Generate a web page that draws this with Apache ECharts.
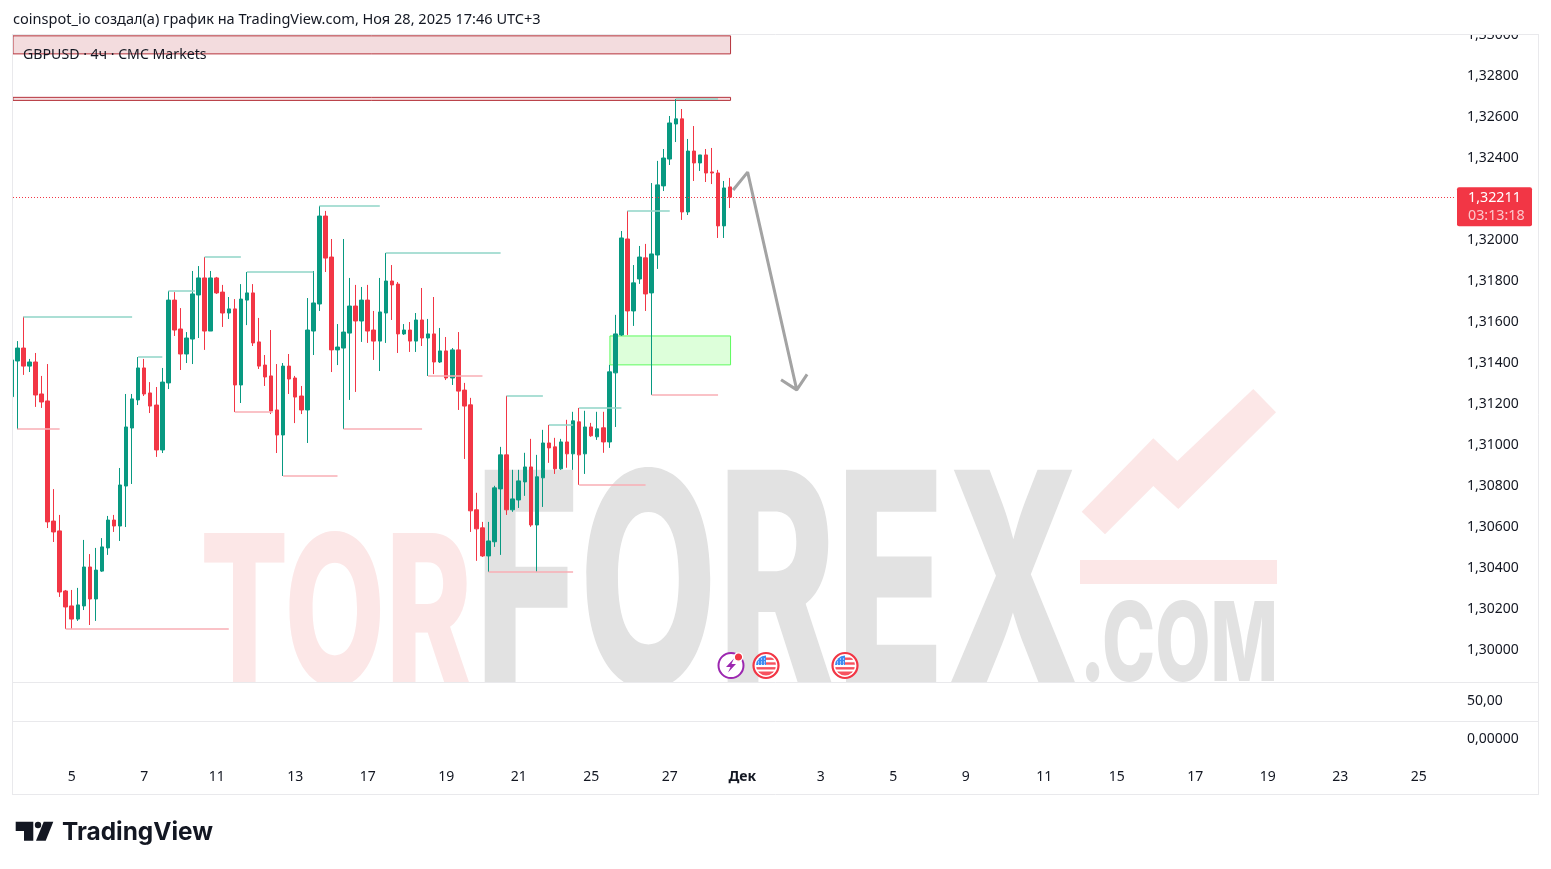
<!DOCTYPE html>
<html>
<head>
<meta charset="utf-8">
<title>GBPUSD 4ч</title>
<script src="https://cdn.jsdelivr.net/npm/echarts@6/dist/echarts.min.js"></script>
<style>
  html, body { margin: 0; padding: 0; background: #fff; }
  #main { width: 1551px; height: 869px; }
</style>
</head>
<body>
<div id="main"></div>
<script>
// свечи 4ч: [open, close, low, high]
const candles = [
  [1.31238,1.31417,1.31200,1.31450],[1.31412,1.31475,1.31079,1.31509],[1.31475,1.31387,1.31344,1.31628],[1.31387,1.31407,1.31358,1.31422],
  [1.31407,1.31246,1.31188,1.31451],[1.31251,1.31212,1.31183,1.31339],[1.31217,1.30627,1.30597,1.31397],[1.30631,1.30578,1.30529,1.30787],
  [1.30583,1.30285,1.30261,1.30661],[1.30290,1.30212,1.30105,1.30295],[1.30217,1.30153,1.30105,1.30295],[1.30153,1.30222,1.30144,1.30305],
  [1.30217,1.30407,1.30197,1.30539],[1.30407,1.30251,1.30124,1.30470],[1.30251,1.30392,1.30144,1.30500],[1.30387,1.30505,1.30383,1.30548],
  [1.30500,1.30636,1.30466,1.30656],[1.30636,1.30607,1.30578,1.30661],[1.30607,1.30807,1.30534,1.30890],[1.30802,1.31090,1.30602,1.31251],
  [1.31085,1.31227,1.30812,1.31251],[1.31222,1.31378,1.31197,1.31431],[1.31378,1.31251,1.31241,1.31422],[1.31256,1.31192,1.31158,1.31309],
  [1.31197,1.30978,1.30944,1.31285],[1.30978,1.31309,1.30963,1.31378],[1.31305,1.31709,1.31275,1.31753],[1.31709,1.31563,1.31534,1.31748],
  [1.31568,1.31446,1.31368,1.31670],[1.31446,1.31524,1.31402,1.31553],[1.31519,1.31739,1.31397,1.31851],[1.31734,1.31817,1.31524,1.31875],
  [1.31817,1.31558,1.31466,1.31919],[1.31558,1.31817,1.31558,1.31851],[1.31817,1.31744,1.31739,1.31822],[1.31748,1.31646,1.31578,1.31783],
  [1.31646,1.31666,1.31617,1.31724],[1.31666,1.31295,1.31163,1.31714],[1.31295,1.31714,1.31207,1.31787],[1.31709,1.31744,1.31587,1.31846],
  [1.31744,1.31500,1.31485,1.31787],[1.31505,1.31387,1.31373,1.31622],[1.31392,1.31334,1.31290,1.31441],[1.31339,1.31168,1.31153,1.31563],
  [1.31173,1.31051,1.30963,1.31397],[1.31051,1.31387,1.30851,1.31402],[1.31387,1.31324,1.31251,1.31446],[1.31329,1.31236,1.31109,1.31339],
  [1.31241,1.31173,1.31153,1.31290],[1.31173,1.31563,1.31012,1.31719],[1.31558,1.31695,1.31441,1.31851],[1.31690,1.32119,1.31656,1.32168],
  [1.32119,1.31914,1.31846,1.32144],[1.31919,1.31466,1.31358,1.32007],[1.31466,1.31480,1.31392,1.31592],[1.31475,1.31553,1.31080,1.32007],
  [1.31548,1.31680,1.31222,1.31817],[1.31680,1.31607,1.31261,1.31783],[1.31607,1.31709,1.31505,1.31773],[1.31709,1.31558,1.31500,1.31783],
  [1.31563,1.31509,1.31417,1.31656],[1.31509,1.31651,1.31363,1.31817],[1.31646,1.31802,1.31500,1.31939],[1.31802,1.31783,1.31612,1.31880],
  [1.31787,1.31544,1.31451,1.31797],[1.31544,1.31563,1.31539,1.31592],[1.31563,1.31509,1.31456,1.31602],[1.31509,1.31612,1.31456,1.31646],
  [1.31612,1.31524,1.31485,1.31768],[1.31524,1.31544,1.31339,1.31617],[1.31544,1.31407,1.31348,1.31724],[1.31407,1.31461,1.31402,1.31573],
  [1.31461,1.31329,1.31319,1.31529],[1.31329,1.31466,1.31295,1.31475],[1.31466,1.31265,1.31173,1.31553],[1.31270,1.31192,1.30934,1.31305],
  [1.31198,1.30681,1.30578,1.31232],[1.30686,1.30593,1.30437,1.30769],[1.30598,1.30461,1.30456,1.30627],[1.30461,1.30534,1.30383,1.30627],
  [1.30530,1.30793,1.30505,1.30803],[1.30788,1.30954,1.30466,1.30993],[1.30954,1.30686,1.30661,1.31242],[1.30686,1.30739,1.30676,1.30881],
  [1.30734,1.30827,1.30695,1.30881],[1.30822,1.30895,1.30754,1.30964],[1.30895,1.30612,1.30603,1.31032],[1.30612,1.30847,1.30383,1.30954],
  [1.30842,1.31012,1.30700,1.31076],[1.31012,1.30988,1.30915,1.31100],[1.30993,1.30886,1.30861,1.31037],[1.30886,1.31017,1.30881,1.31032],
  [1.31017,1.30959,1.30891,1.31125],[1.30959,1.31120,1.30881,1.31164],[1.31115,1.30954,1.30808,1.31183],[1.30959,1.31090,1.30861,1.31169],
  [1.31090,1.31047,1.31042,1.31110],[1.31042,1.31081,1.31027,1.31164],[1.31086,1.31017,1.30964,1.31164],[1.31017,1.31359,1.30988,1.31393],
  [1.31354,1.31544,1.31090,1.31637],[1.31539,1.32012,1.31534,1.32046],[1.32007,1.31656,1.31539,1.32144],[1.31656,1.31793,1.31583,1.31880],
  [1.31812,1.31919,1.31788,1.31973],[1.31915,1.31739,1.31656,1.31983],[1.31744,1.31934,1.31246,1.32280],[1.31929,1.32271,1.31861,1.32388],
  [1.32266,1.32402,1.32241,1.32446],[1.32397,1.32573,1.32368,1.32607],[1.32568,1.32593,1.32480,1.32690],[1.32593,1.32139,1.32100,1.32641],
  [1.32139,1.32436,1.32124,1.32495],[1.32436,1.32378,1.32290,1.32558],[1.32378,1.32417,1.32339,1.32417],[1.32417,1.32329,1.32285,1.32446],
  [1.32334,1.32329,1.32275,1.32451],[1.32329,1.32071,1.32012,1.32344],[1.32071,1.32256,1.32012,1.32290],[1.32261,1.32211,1.32158,1.32305]
];

// подписи осей
const priceTicks = [1.30,1.302,1.304,1.306,1.308,1.31,1.312,1.314,1.316,1.318,1.32,1.322,1.324,1.326,1.328,1.33];
const dateTicks = [10,22,34,47,59,72,84,96,109,121,134,146,158,171,183,196,208,220,233];
const dateLabels = ['5','7','11','13','17','19','21','25','27','Дек','3','5','9','11','15','17','19','23','25'];
const lastPrice = 1.32211;
const countdown = '03:13:18';

// линии от экстремумов: [от свечи, до свечи, цена]
const swingHighs = [
  [2,20,1.31628],[21,25,1.31431],[26,30.4,1.31753],[32,38,1.31919],[39,50,1.31846],[51,61,1.32168],
  [62,81,1.31939],[82,88,1.31242],[89,93,1.31100],[94,101,1.31183],[102,109,1.32144],[110,117,1.32690]
];
const swingLows = [
  [1,8,1.31079],[9,36,1.30105],[37,43.3,1.31163],[45,54,1.30851],[55,68,1.31080],[69,78,1.31339],
  [79,93,1.30383],[94,105,1.30808],[106,117,1.31246]
];

// зоны: [от, до, верх, низ]
const redZones = [[0.28,119.07,1.32998,1.32910],[0.28,119.07,1.32698,1.32683]];
const greenZones = [[99.1,119.07,1.31534,1.31393]];

// стрелка прогноза
const arrowPath = [[119.5,1.32246],[121.9,1.32333],[130.03,1.31271],[127.43,1.31320],[130.03,1.31271],[131.74,1.31347]];

const UP = '#089981', DOWN = '#f23645';
const FONT = '"Noto Sans"';
const xMin = 0.28, xMax = 239.0;

const chart = echarts.init(document.getElementById('main'));

function fmtPrice(v) { return v.toFixed(5).replace('.', ','); }

function segLines(list, color) {
  return list.map(s => [
    { coord: [s[0], s[2]], lineStyle: { color: color, width: 1.5, type: 'solid' } },
    { coord: [s[1], s[2]] }
  ]);
}
function zoneAreas(list, fill, border) {
  return list.map(z => [
    { coord: [z[0], z[2]], itemStyle: { color: fill, borderColor: border, borderWidth: 1 } },
    { coord: [z[1], z[3]] }
  ]);
}

function xAxisFor(gridIndex, showLabels) {
  return {
    type: 'value', gridIndex: gridIndex, min: xMin, max: xMax,
    axisLine: { show: false }, axisTick: { show: false }, splitLine: { show: false },
    axisLabel: {
      show: showLabels, customValues: dateTicks, margin: 10, hideOverlap: false,
      color: '#131722', fontFamily: FONT, fontSize: 14,
      formatter: v => {
        const t = dateLabels[dateTicks.indexOf(v)];
        return t === 'Дек' ? '{b|Дек}' : t;
      },
      rich: { b: { fontWeight: 'bold', fontFamily: FONT, fontSize: 14, color: '#131722' } }
    }
  };
}
function yAxisFor(gridIndex, min, max, values, fmt) {
  return {
    type: 'value', gridIndex: gridIndex, position: 'right', min: min, max: max, scale: true,
    axisLine: { show: false }, axisTick: { show: false }, splitLine: { show: false },
    axisLabel: {
      customValues: values, margin: 12, align: 'left',
      color: '#131722', fontFamily: FONT, fontSize: 14, padding: [0, 0, 3, 0], formatter: fmt
    }
  };
}

chart.setOption({
  animation: false,
  backgroundColor: '#fff',
  grid: [
    { left: 13, top: 34, width: 1442, height: 648 },
    { left: 13, top: 683, width: 1442, height: 38 },
    { left: 13, top: 722, width: 1442, height: 38 }
  ],
  xAxis: [xAxisFor(0, false), xAxisFor(1, false), xAxisFor(2, true)],
  yAxis: [
    yAxisFor(0, 1.29846, 1.33007, priceTicks, fmtPrice),
    yAxisFor(1, 0, 95, [50], v => '50,00'),
    yAxisFor(2, -1.24, 1, [0], v => '0,00000')
  ],
  series: [
    {
      type: 'candlestick',
      xAxisIndex: 0, yAxisIndex: 0,
      barWidth: 4,
      clip: true,
      silent: true,
      data: candles.map((c, i) => [i, c[0], c[1], c[2], c[3]]),
      encode: { x: 0, y: [1, 2, 3, 4] },
      itemStyle: { color: UP, color0: DOWN, borderColor: UP, borderColor0: DOWN, borderWidth: 1 },
      markLine: {
        silent: true, symbol: 'none', animation: false, label: { show: false },
        data: [
          ...segLines(swingHighs, '#8fd4c7'),
          ...segLines(swingLows, '#f9aeb5'),
          [
            { coord: [xMin, lastPrice], lineStyle: { color: DOWN, width: 1, type: [1, 2] } },
            { coord: [xMax, lastPrice] }
          ]
        ]
      },
      markArea: {
        silent: true, animation: false,
        data: [
          ...zoneAreas(redZones, 'rgba(178,40,51,0.16)', '#b5333b'),
          ...zoneAreas(greenZones, 'rgba(76,255,60,0.19)', '#5dfb5d')
        ]
      }
    },
    {
      type: 'line', xAxisIndex: 0, yAxisIndex: 0,
      data: arrowPath, showSymbol: false, symbol: 'none', silent: true,
      lineStyle: { color: '#a3a3a3', width: 3 }, z: 4
    }
  ]
});

// водяной знак, рамка и подписи вокруг графика
const tagY = chart.convertToPixel({ yAxisIndex: 0 }, lastPrice);
const wm = { gray: '#e2e2e2', red: '#fce7e7' };
const WM_FONT = 'Inter';

function flagIcon(cx, cy) {
  const dots = [-8, -5, -2].map(x => [-7, -4, -1.8].map(y => "<rect x='" + x + "' y='" + y + "' width='1' height='1' fill='#fff'/>").join('')).join('');
  const svg = "<svg xmlns='http://www.w3.org/2000/svg' width='28' height='28' viewBox='-14 -14 28 28'>" +
    "<defs><clipPath id='f'><circle r='10'/></clipPath></defs>" +
    "<circle r='12.5' fill='#fff' stroke='#f23645' stroke-width='2.2'/>" +
    "<g clip-path='url(#f)'>" +
    "<rect x='0' y='-8' width='11' height='2.4' fill='#f7525f'/><rect x='0' y='-3.2' width='11' height='2.4' fill='#f7525f'/>" +
    "<rect x='-11' y='1.6' width='22' height='2.4' fill='#f7525f'/><rect x='-11' y='6' width='22' height='5' fill='#f7525f'/>" +
    "<rect x='-11' y='-11' width='11' height='10.5' fill='#3d8bf2'/>" + dots +
    "</g></svg>";
  return { type: 'image', z: 6, style: { image: 'data:image/svg+xml;utf8,' + encodeURIComponent(svg), x: cx - 14, y: cy - 14, width: 28, height: 28 } };
}
const boltSvg = "<svg xmlns='http://www.w3.org/2000/svg' width='28' height='28' viewBox='-14 -14 28 28'>" +
  "<circle r='12.5' fill='#fff' stroke='#9c27b0' stroke-width='2'/>" +
  "<path d='M3 -7 L-5 1.5 H-0.5 L-3 7 L5 -1.5 H0.5Z' fill='#9c27b0'/>" +
  "<circle cx='7.5' cy='-8.5' r='4.2' fill='#f23645' stroke='#fff' stroke-width='1.2'/></svg>";

function text(x, y, str, font, fill, extra) {
  return Object.assign({
    type: 'text', x: x, y: y, z: 8,
    style: { text: str, font: font, fill: fill, align: 'left', verticalAlign: 'middle' }
  }, extra || {});
}
function hline(x1, x2, y) {
  return { type: 'line', z: 7, silent: true, shape: { x1: x1, y1: y, x2: x2, y2: y }, style: { stroke: '#e9e9ec', lineWidth: 1 } };
}

chart.setOption({
  graphic: { elements: [
    // водяной знак
    text(200, 622, 'TOR', '800 209px ' + WM_FONT, wm.red, { z: 0, scaleX: 0.626 }),
    text(474.6, 597, 'FOREX', '800 298px ' + WM_FONT, wm.gray, { z: 0, scaleX: 0.6 }),
    text(1080, 648, '.COM', '800 110px ' + WM_FONT, wm.gray, { z: 0, scaleX: 0.65 }),
    { type: 'polygon', z: 0, shape: { points: [[1081.7,511.7],[1153.3,438.3],[1177.3,461],[1253.3,389],[1276,412.3],[1178.3,509],[1153.3,486],[1105,534.3]] }, style: { fill: wm.red } },
    { type: 'rect', z: 0, shape: { x: 1080, y: 560, width: 197, height: 24 }, style: { fill: wm.red } },
    { type: 'rect', z: 1, shape: { x: 13, y: 683, width: 1442, height: 38 }, style: { fill: '#fff' } },

    // левый край: половина свечи обрезана рамкой
    { type: 'rect', z: 6, shape: { x: 0, y: 34, width: 12.5, height: 648 }, style: { fill: '#fff' } },

    // рамка панелей
    hline(12.5, 1538.5, 34.5), hline(12.5, 1538.5, 682.5), hline(12.5, 1538.5, 721.5), hline(12.5, 1538.5, 794.5),
    { type: 'line', z: 7, shape: { x1: 12.5, y1: 34, x2: 12.5, y2: 795 }, style: { stroke: '#e9e9ec', lineWidth: 1 } },
    { type: 'line', z: 7, shape: { x1: 1538.5, y1: 34, x2: 1538.5, y2: 795 }, style: { stroke: '#e9e9ec', lineWidth: 1 } },

    // обрезка верхней подписи цены
    { type: 'rect', z: 6, shape: { x: 1457, y: 0, width: 80, height: 34 }, style: { fill: '#fff' } },

    // заголовки
    text(13, 20, 'coinspot_io создал(а) график на TradingView.com, Ноя 28, 2025 17:46 UTC+3', '14.55px ' + FONT, '#131722'),
    text(23, 55, 'GBPUSD · 4ч · CMC Markets', '14.15px ' + FONT, '#131722'),

    // метка текущей цены
    { type: 'rect', z: 6, shape: { x: 1457, y: tagY - 10, width: 75, height: 39, r: 2 }, style: { fill: DOWN } },
    text(1468, tagY + 1, fmtPrice(lastPrice), '14.3px ' + FONT, '#fff'),
    text(1468, tagY + 19, countdown, '14.3px ' + FONT, 'rgba(255,255,255,0.72)'),

    // значки событий
    { type: 'image', z: 6, style: { image: 'data:image/svg+xml;utf8,' + encodeURIComponent(boltSvg), x: 717, y: 651.5, width: 28, height: 28 } },
    flagIcon(766, 665.5), flagIcon(845, 665.5),

    // логотип
    { type: 'polygon', z: 8, shape: { points: [[15.7,821.7],[33.3,821.7],[33.3,840.7],[24,840.7],[24,831],[15.7,831]] }, style: { fill: '#131722' } },
    { type: 'circle', z: 8, shape: { cx: 38, cy: 825, r: 3.2 }, style: { fill: '#131722' } },
    { type: 'polygon', z: 8, shape: { points: [[53.3,821.7],[45.7,840.7],[36,840.7],[43.7,821.7]] }, style: { fill: '#131722' } },
    text(62, 833, 'TradingView', '700 24.4px Inter', '#131722')
  ] }
});
</script>
</body>
</html>
